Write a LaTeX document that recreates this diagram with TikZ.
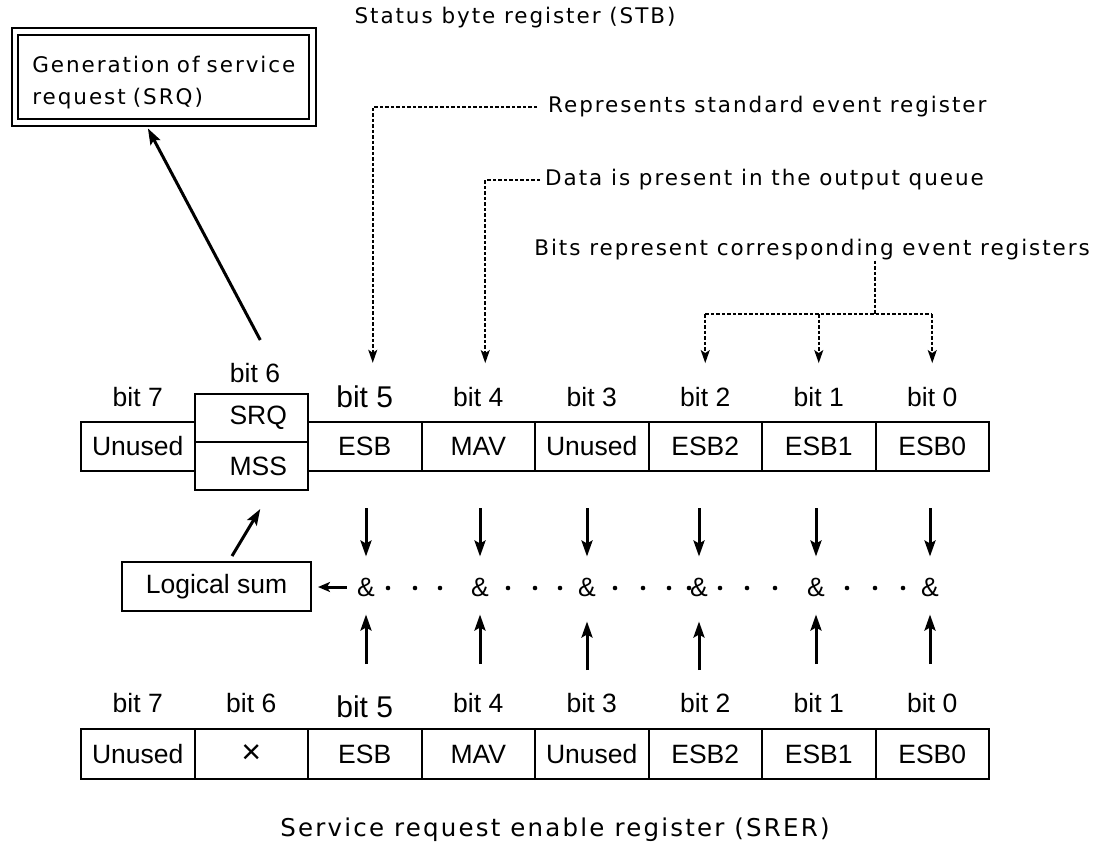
\documentclass[tikz,border=0pt]{standalone}
\usepackage{fontspec}
\setmainfont{Liberation Sans}
\newfontfamily\gothic[LetterSpace=9]{DejaVu Sans}
\usetikzlibrary{arrows.meta,calc}
\tikzset{
  regcell/.style={draw,line width=2pt,minimum width=113.5pt,minimum height=49pt,
    inner sep=0pt,font=\fontsize{26.5}{30}\selectfont},
  bitlabel/.style={inner sep=0pt,font=\fontsize{26.5}{30}\selectfont},
  bigbit/.style={inner sep=0pt,font=\fontsize{30}{32}\selectfont},
  notetext/.style={inner sep=0pt,font=\gothic\fontsize{21.5}{32}\selectfont},
  sumbox/.style={draw,line width=2pt,minimum width=189pt,minimum height=49pt,
    inner sep=0pt,font=\fontsize{26.5}{30}\selectfont},
  genbox/.style={draw,double,double distance=4.6pt,line width=2pt,
    minimum width=297.7pt,minimum height=90.8pt,text width=263pt,align=left,
    inner sep=0pt,font=\gothic\fontsize{21.5}{32}\selectfont},
  solidarrow/.style={-{Stealth[length=16pt,width=11pt,inset=3pt]},line width=3pt},
  hintarrow/.style={-{Stealth[length=13pt,width=9pt,inset=3pt]},line width=1.6pt,
    dash pattern=on 3.5pt off 2pt},
  hintline/.style={line width=1.6pt,dash pattern=on 3.5pt off 2pt}
}
\begin{document}
\begin{tikzpicture}[x=1pt,y=-1pt]
  \useasboundingbox[fill=white] (0,0) rectangle (1116,846);

  % status byte register (STB)
  \foreach \k/\b/\txt in {0/7/Unused,2/5/ESB,3/4/MAV,4/3/Unused,5/2/ESB2,6/1/ESB1,7/0/ESB0}
    \node[regcell] (stb\b) at ({137.75+113.5*\k},446.5) {\txt};
  \node[regcell,minimum height=48pt] (srq) at (251.25,418) {\hspace*{14pt}SRQ};
  \node[regcell,minimum height=48pt] (mss) at (251.25,466) {\hspace*{14pt}MSS};
  \foreach \k/\b in {0/7,3/4,4/3,5/2,6/1,7/0}
    \node[bitlabel] (top\b) at ({137.75+113.5*\k},397) {bit \b};
  \node[bigbit] (top5) at (364.75,397) {bit 5};
  \node[bitlabel] (top6) at (255,373) {bit 6};

  % service request enable register (SRER)
  \foreach \k/\b/\txt in {0/7/Unused,1/6/{\fontsize{34}{34}\selectfont ×},2/5/ESB,3/4/MAV,4/3/Unused,5/2/ESB2,6/1/ESB1,7/0/ESB0}
    \node[regcell,minimum height=50pt] (srer\b) at ({137.75+113.5*\k},754) {\txt};
  \foreach \k/\b in {0/7,1/6,3/4,4/3,5/2,6/1,7/0}
    \node[bitlabel] (bot\b) at ({137.75+113.5*\k},703) {bit \b};
  \node[bigbit] (bot5) at (364.75,707) {bit 5};

  % logical products
  \foreach \b/\x in {5/366,4/480,3/587,2/699,1/816,0/930}
    \node[bitlabel] (and\b) at (\x,587) {\&};
  \foreach \x in {388,415,440,508,535,560,615,643,669,689,720,747,775,847,875,903}
    \fill (\x,588) circle (2.3pt);
  \foreach \b in {5,4,3,2,1,0}
    \draw[solidarrow,shorten <=36pt,shorten >=21pt] (stb\b.south -| and\b) -- (and\b);
  \foreach \b in {5,4,1,0}
    \draw[solidarrow,shorten <=64pt,shorten >=18pt] (srer\b.north -| and\b) -- (and\b);
  \foreach \b in {3,2}
    \draw[solidarrow,shorten <=58pt,shorten >=25pt] (srer\b.north -| and\b) -- (and\b);

  % logical sum
  \node[sumbox] (logsum) at (216.5,586.5) {Logical sum};
  \draw[solidarrow,-{Stealth[length=12pt,width=10pt,inset=3pt]},shorten <=10pt,shorten >=6pt]
    (and5) -- (and5 -| logsum.east);
  \draw[solidarrow] ([xshift=15.5pt,yshift=5pt]logsum.north) -- ([xshift=9pt,yshift=-18pt]mss.south);

  % service request
  \node[genbox] (gen) at (163.9,77) {\rule{0pt}{28pt}Generation of service\\request (SRQ)};
  \draw[solidarrow] ([xshift=9pt,yshift=53pt]srq.north) -- ([xshift=-16pt,yshift=-5pt]gen.south);

  % notes
  \node[notetext] (stbname) at (515,18) {Status byte register (STB)};
  \node[notetext,anchor=west] (esbnote) at (548,107) {Represents standard event register};
  \node[notetext,anchor=west] (mavnote) at (545,180) {Data is present in the output queue};
  \node[notetext,anchor=east] (eventnote) at (1090,250) {Bits represent corresponding event registers};
  \node[notetext,font=\gothic\fontsize{24.5}{30}\selectfont] (srername) at (555,830)
    {Service request enable register (SRER)};

  \draw[hintarrow,shorten <=11pt,shorten >=23pt] (esbnote.west) -| ([xshift=8pt]top5.north);
  \draw[hintarrow,shorten <=5pt,shorten >=24pt] (mavnote.west) -| ([xshift=7pt]top4.north);
  \coordinate (fork) at (875,314);
  \draw[hintline] (eventnote.south -| fork) -- (fork);
  \draw[hintline] (fork -| top2) -- (fork -| top0);
  \foreach \b in {2,1,0}
    \draw[hintarrow,shorten >=24pt] (fork -| top\b) -- (top\b.north);
\end{tikzpicture}
\end{document}
